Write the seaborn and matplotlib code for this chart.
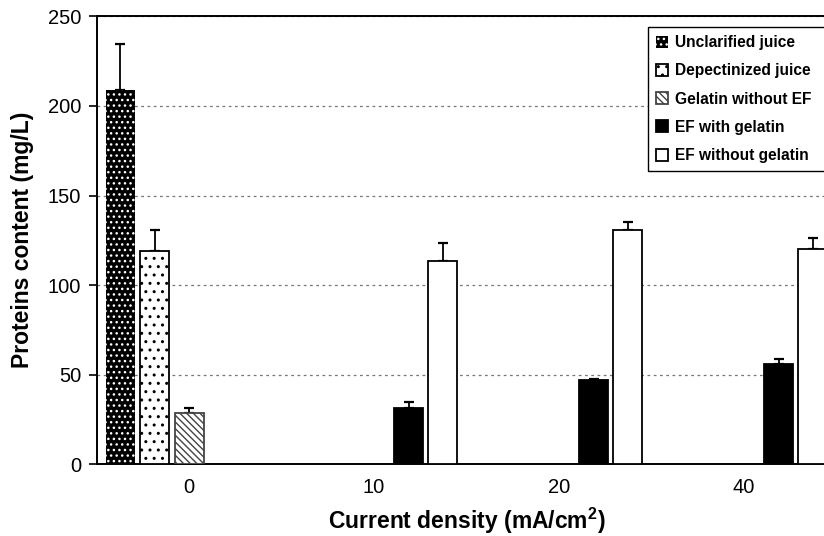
import matplotlib
matplotlib.use("Agg")
import matplotlib.pyplot as plt
import matplotlib.patches as mpatches
import numpy as np
import pandas as pd
import seaborn as sns

# Data
densities = ["0", "10", "20", "40"]
series = ["Unclarified juice", "Depectinized juice", "Gelatin without EF",
          "EF with gelatin", "EF without gelatin"]

unclarified = {"0": 209.0}
unclarified_err = {"0": 25.5}
depectinized = {"0": 119.0}
depectinized_err = {"0": 12.0}
gelatin_no_ef = {"0": 28.7}
gelatin_no_ef_err = {"0": 2.5}
ef_with_gel = {"10": 31.3, "20": 46.8, "40": 55.8}
ef_with_gel_err = {"10": 3.7, "20": 0.9, "40": 3.1}
ef_without_gel = {"10": 113.2, "20": 130.7, "40": 119.9}
ef_without_gel_err = {"10": 10.3, "20": 4.3, "40": 6.4}

values = [unclarified, depectinized, gelatin_no_ef, ef_with_gel, ef_without_gel]
errors = [unclarified_err, depectinized_err, gelatin_no_ef_err, ef_with_gel_err, ef_without_gel_err]

rows = []
for name, vals, errs in zip(series, values, errors):
    for d, v in vals.items():
        rows.append({"density": d, "series": name, "protein": v, "err": errs[d]})
df = pd.DataFrame(rows)

# bar styles: (face, edge, hatch, linewidth)
styles = [
    ("black", "white", "...", 0.0),
    ("white", "black", "..", 1.3),
    ("white", "#444444", "\\\\\\\\\\", 1.3),
    ("black", "black", "", 1.3),
    ("white", "black", "", 1.3),
]

sns.set_style("white")
plt.rcParams["font.family"] = ["Liberation Sans", "DejaVu Sans"]
plt.rcParams["mathtext.fontset"] = "custom"
plt.rcParams["mathtext.bf"] = "Liberation Sans:bold"
plt.rcParams["mathtext.rm"] = "Liberation Sans"
plt.rcParams["hatch.linewidth"] = 1.0
for key in ["text.color", "axes.labelcolor", "xtick.color", "ytick.color"]:
    plt.rcParams[key] = "black"

fig = plt.figure(figsize=(8.24, 5.36), dpi=100)
ax = fig.add_axes([96.6 / 824, (536 - 464.3) / 536, 740 / 824, 448 / 536])

sns.barplot(data=df, x="density", y="protein", hue="series", order=densities,
            hue_order=series, dodge=True, width=0.93, gap=0.155,
            errorbar=None, legend=False, ax=ax, zorder=3)

err_lookup = {(s, densities.index(d)): e
              for s, vals, errs in zip(series, values, errors) for d, e in errs.items()}

for name, cont, (fc, ec, hatch, lw) in zip(series, ax.containers, styles):
    xs, ys, es = [], [], []
    for p in cont.patches:
        p.set_facecolor(fc)
        p.set_edgecolor(ec)
        p.set_hatch(hatch)
        p.set_linewidth(lw)
        xc = p.get_x() + p.get_width() / 2
        h = p.get_height()
        if np.isnan(h):
            continue
        xs.append(xc)
        ys.append(h)
        es.append(err_lookup[(name, int(round(xc)))])
    ax.errorbar(xs, ys, yerr=[np.zeros(len(es)), es], fmt="none", ecolor="black",
                elinewidth=1.3, capsize=3.6, capthick=1.6, zorder=2)

ax.set_xlim(-0.5, 3.5)
ax.set_ylim(0, 250)
ax.set_yticks(np.arange(0, 251, 50))
ax.yaxis.grid(True, color="#777777", linestyle=(0, (2.2, 2.8)), linewidth=0.9)
ax.set_axisbelow(True)

ax.set_xticks(range(len(densities)))
ax.set_xticklabels(densities)
ax.set_xticks(np.arange(-0.5, 3.6, 1), minor=True)
ax.tick_params(axis="x", which="major", length=0, pad=10, labelsize=14.5)
ax.tick_params(axis="x", which="minor", length=6, width=1.2, direction="out", color="black")
ax.tick_params(axis="y", length=6, width=1.2, direction="out", pad=5, labelsize=14.5, color="black")
ax.tick_params(left=True, bottom=True)

for side in ["left", "bottom", "top", "right"]:
    ax.spines[side].set_color("black")
    ax.spines[side].set_linewidth(1.4)

ax.set_xlabel(r"Current density (mA/cm$^{\mathbf{2}}$)", fontsize=16.5, fontweight="bold", labelpad=6)
ax.set_ylabel("Proteins content (mg/L)", fontsize=16.5, fontweight="bold", labelpad=10)

handles = [mpatches.Patch(facecolor=fc, edgecolor=ec if lw > 0 else "white", hatch=hatch,
                          linewidth=lw if lw > 0 else 0.0)
           for fc, ec, hatch, lw in styles]
leg = fig.legend(handles=handles, labels=series, loc="upper left",
                 bbox_to_anchor=(648 / 824, 0.5, 0.26, 1 - 27.3 / 536 - 0.5),
                 bbox_transform=fig.transFigure, mode="expand", borderaxespad=0,
                 fancybox=False, framealpha=1, edgecolor="black",
                 prop={"weight": "bold", "size": 11.2}, handlelength=0.8,
                 handleheight=0.8, handletextpad=0.45, labelspacing=0.85, borderpad=0.5)
leg.get_frame().set_linewidth(1.0)

fig.savefig("out.png", dpi=100)
